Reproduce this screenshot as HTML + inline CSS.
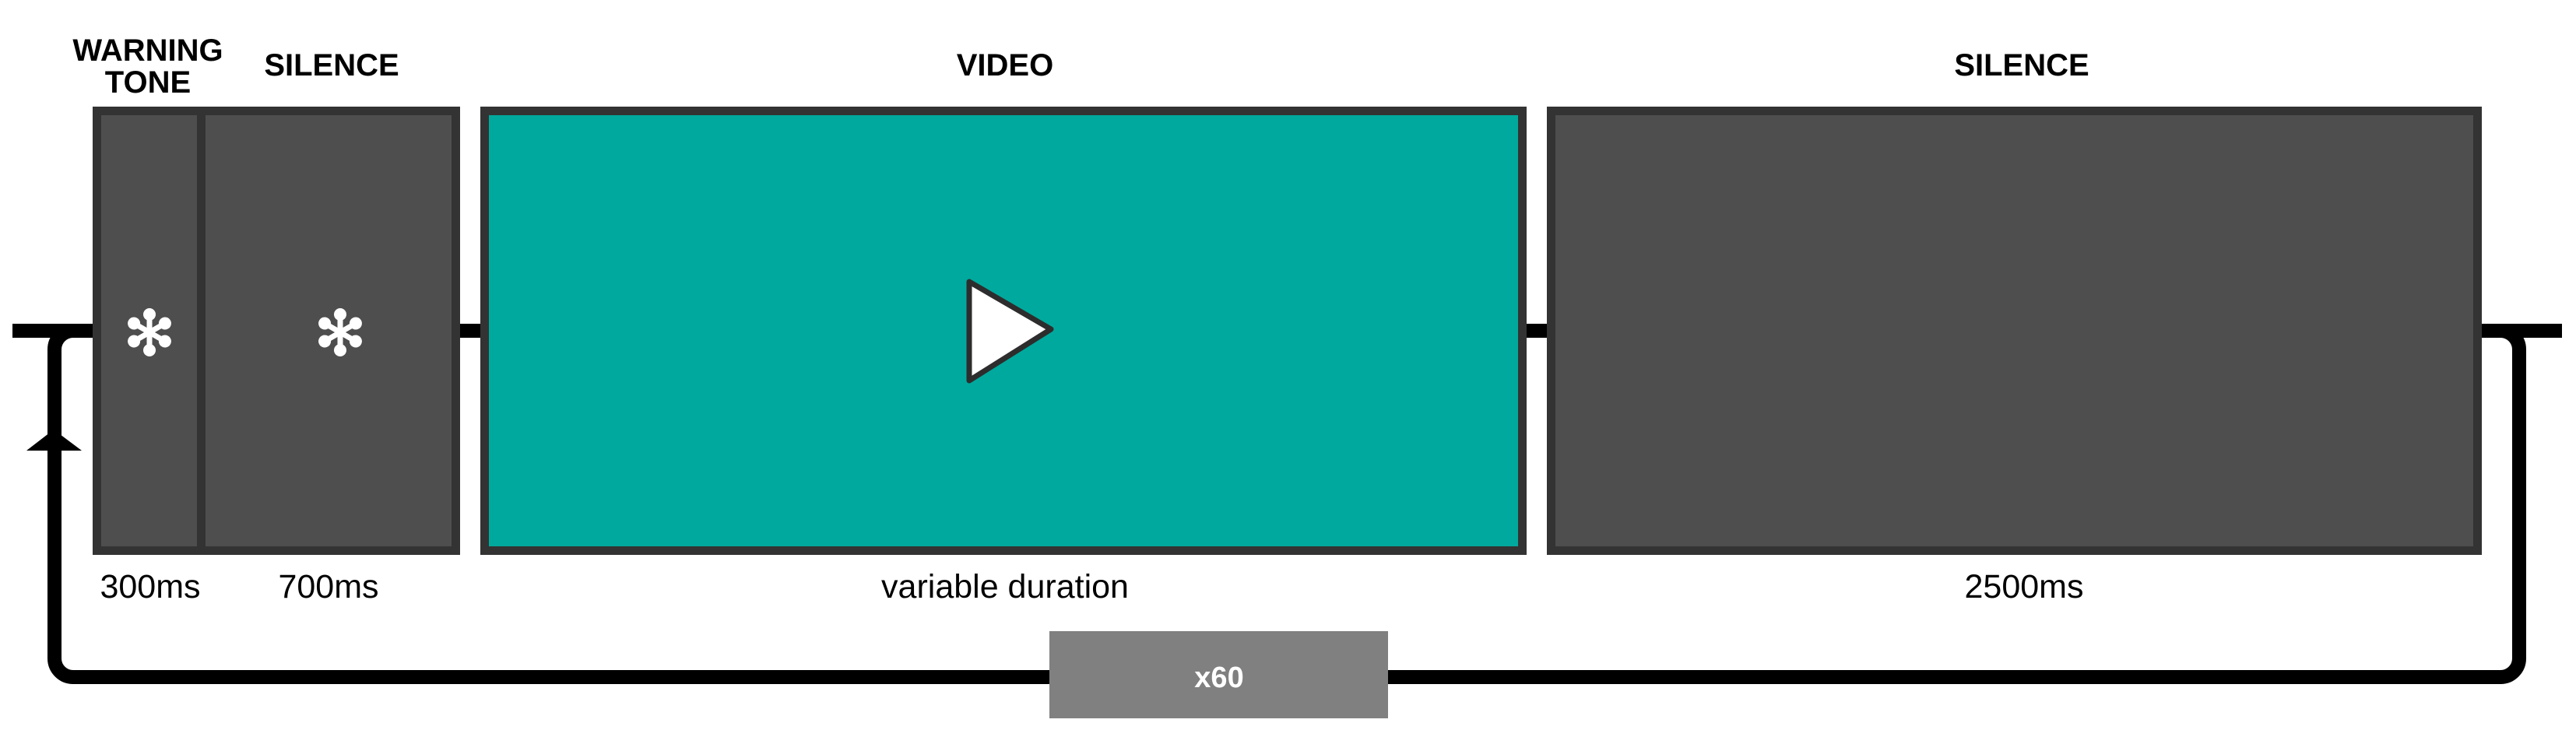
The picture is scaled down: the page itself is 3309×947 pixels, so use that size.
<!DOCTYPE html>
<html><head><meta charset="utf-8"><style>
html,body{margin:0;padding:0;background:#fff;}
body{width:3309px;height:942px;overflow:hidden;}
svg text{font-family:"Liberation Sans",sans-serif;}
</style></head><body>
<svg width="3309" height="942" viewBox="0 0 3309 942" xmlns="http://www.w3.org/2000/svg">
<defs>
<g id="ast">
  <g id="pet"><line x1="0" y1="0" x2="0" y2="-22" stroke="#fff" stroke-width="7" stroke-linecap="round"/><circle cx="0" cy="-23" r="8" fill="#fff"/></g>
  <use href="#pet" transform="rotate(60)"/>
  <use href="#pet" transform="rotate(120)"/>
  <use href="#pet" transform="rotate(180)"/>
  <use href="#pet" transform="rotate(240)"/>
  <use href="#pet" transform="rotate(300)"/>
</g>
</defs>
<!-- main line -->
<rect x="16" y="416" width="3275" height="18" fill="#000"/>
<!-- loop -->
<rect x="70" y="425" width="3166" height="445" rx="24" ry="24" fill="none" stroke="#000" stroke-width="18"/>
<!-- arrowhead -->
<polygon points="69,552 34,579 105,579" fill="#000"/>
<!-- box 1 -->
<rect x="124.5" y="142.5" width="461" height="565" fill="#4e4e4e" stroke="#333" stroke-width="11"/>
<rect x="253" y="142" width="11" height="566" fill="#333"/>
<!-- video -->
<rect x="622.5" y="142.5" width="1333" height="565" fill="#00a99d" stroke="#333" stroke-width="11"/>
<!-- silence 2 -->
<rect x="1992.5" y="142.5" width="1190" height="565" fill="#4e4e4e" stroke="#333" stroke-width="11"/>
<!-- asterisks -->
<use href="#ast" transform="translate(192,427)"/>
<use href="#ast" transform="translate(437,427)"/>
<!-- play -->
<polygon points="1245,362 1245,489 1350,423" fill="#fff" stroke="#2d2d2d" stroke-width="7" stroke-linejoin="round"/>
<!-- x60 -->
<rect x="1348" y="811" width="435" height="112" fill="#808080"/>
<text x="1566" y="883" font-size="38" fill="#fff" text-anchor="middle" font-weight="bold">x60</text>
<!-- titles -->
<g font-weight="bold" font-size="40" text-anchor="middle" fill="#000">
<text x="190" y="78">WARNING</text>
<text x="190" y="119">TONE</text>
<text x="426" y="97">SILENCE</text>
<text x="1291" y="97">VIDEO</text>
<text x="2597" y="97">SILENCE</text>
</g>
<g font-size="43" text-anchor="middle" fill="#000">
<text x="193" y="768">300ms</text>
<text x="422" y="768">700ms</text>
<text x="1291" y="768">variable duration</text>
<text x="2600" y="768">2500ms</text>
</g>
</svg>
</body></html>
